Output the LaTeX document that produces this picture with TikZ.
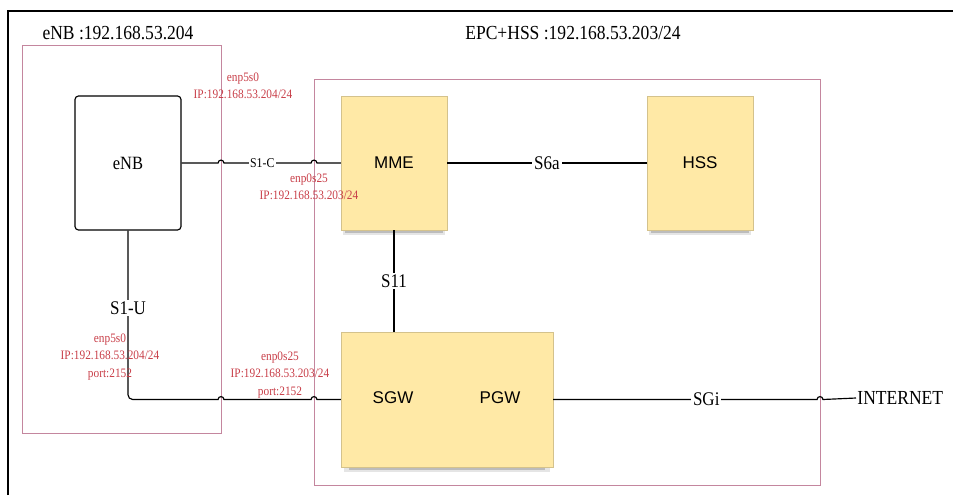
\documentclass[tikz,border=0pt]{standalone}
\usepackage{fontspec}
\setmainfont{Liberation Serif}[FakeStretch=0.88]
\newfontfamily\boxfont{Liberation Sans}
\usetikzlibrary{shadows}
\definecolor{zonepink}{RGB}{196,134,158}
\definecolor{notered}{RGB}{200,62,72}
\definecolor{boxyellow}{RGB}{255,233,166}
\definecolor{boxedge}{RGB}{212,194,140}
\tikzset{
  zone/.style={draw=zonepink, line width=0.8pt},
  title/.style={font=\fontsize{17}{18}\selectfont},
  ranbox/.style={draw, line width=1pt, rounded corners=3pt, minimum width=3.18cm,
    minimum height=4.02cm, font=\fontsize{16}{18}\selectfont},
  ybox/.style={draw=boxedge, fill=boxyellow, minimum width=3.18cm, minimum height=4.02cm,
    font=\boxfont\fontsize{14.5}{16}\selectfont,
    drop shadow={shadow xshift=0pt, shadow yshift=-6pt, shadow scale=0.97, opacity=0.1, fill=black},
    drop shadow={shadow xshift=0pt, shadow yshift=-8pt, shadow scale=0.92, opacity=0.18, fill=black}},
  boxtxt/.style={font=\boxfont\fontsize{14.5}{16}\selectfont},
  lnk/.style={line width=1pt},
  cut/.style={fill=white, inner sep=1.5pt, font=\fontsize{16.5}{18}\selectfont},
  smallcut/.style={fill=white, inner sep=1pt, font=\fontsize{11.5}{13}\selectfont},
  iflbl/.style={text=notered, font=\fontsize{11}{14.9}\selectfont, align=center, inner sep=0pt},
}
\begin{document}
\begin{tikzpicture}[x=0.03cm, y=-0.03cm]
  \useasboundingbox (0,0) rectangle (953,495);
  \draw[line width=1.2pt] (8,495) -- (8,11) -- (953,11);
  % hosts
  \draw[zone] (22,45) rectangle (221,433);
  \draw[zone] (314,79) rectangle (820,485);
  \coordinate (xa) at (221,0);
  \coordinate (xb) at (314,0);
  \coordinate (xc) at (820,0);
  \node[title] (enbhost) at (118,33) {eNB :192.168.53.204};
  \node[title] (epchost) at (573,33) {EPC+HSS :192.168.53.203/24};

  % network elements
  \node[ranbox] (enb) at (128,163) {eNB};
  \node[ybox] (mme) at (394,163) {MME};
  \node[ybox] (hss) at (700,163) {HSS};
  \node[ybox, minimum width=6.36cm, minimum height=4.05cm] (gw) at (447,399.5) {};
  \node[boxtxt] (sgw) at (393,398) {SGW};
  \node[boxtxt] (pgw) at (500,398) {PGW};
  \node[title, anchor=west, inner sep=1pt] (inet) at (856,398) {INTERNET};

  % interfaces
  \draw[lnk] (enb.east) -- ([xshift=-2.5pt]xa |- enb.east)
    arc[start angle=180, end angle=0, radius=2.5pt]
    -- node[smallcut, pos=0.44]{S1-C} ([xshift=-2.5pt]xb |- enb.east)
    arc[start angle=180, end angle=0, radius=2.5pt] -- (mme.west);
  \draw[lnk] (mme) -- node[cut]{S6a} (hss);
  \draw[lnk] (mme.south) -- node[cut]{S11} (mme.south |- gw.north);
  \draw[lnk] (enb.south) -- node[cut, pos=0.47]{S1-U} ([yshift=4pt]enb.south |- gw.west)
    [rounded corners=4pt] -- (enb.south |- gw.west) -- ([xshift=8pt]enb.south |- gw.west)
    [sharp corners] -- ([xshift=-2.5pt]xa |- gw.west)
    arc[start angle=180, end angle=0, radius=2.5pt]
    -- ([xshift=-2.5pt]xb |- gw.west)
    arc[start angle=180, end angle=0, radius=2.5pt] -- (gw.west);
  \draw[lnk] (gw.east) -- node[cut, pos=0.58]{SGi} ([xshift=-2.5pt]xc |- gw.east)
    arc[start angle=180, end angle=0, radius=2.5pt] -- (inet.west);

  % interface addresses
  \node[iflbl] (ifa) at (243,86) {enp5s0\\IP:192.168.53.204/24};
  \node[iflbl] (ifb) at (309,187) {enp0s25\\IP:192.168.53.203/24};
  \node[iflbl] (ifc) at (110,357) {enp5s0\\IP:192.168.53.204/24\\port:2152};
  \node[iflbl] (ifd) at (280,375) {enp0s25\\IP:192.168.53.203/24\\port:2152};
\end{tikzpicture}
\end{document}
